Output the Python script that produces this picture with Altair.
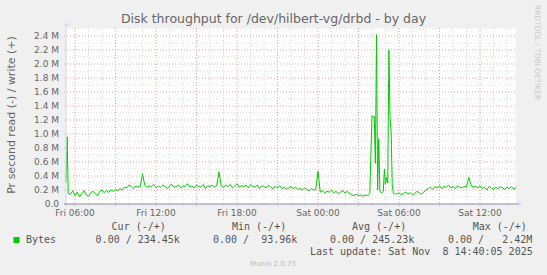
import altair as alt
import pandas as pd

# ---------------- data (values in M bytes/s, write side; read side is 0) ----------------
# Fri 05:20 .. 05:30, 5-minute samples
start_values = [0.31, 0.96, 0.15]
# Fri 05:40 .. Sat 03:40, 10-minute samples
day_values = [
    0.14, 0.19, 0.12, 0.17, 0.10, 0.15, 0.19, 0.13, 0.11, 0.16, 0.18,
    0.15, 0.12, 0.18, 0.20, 0.16, 0.19, 0.17, 0.20, 0.18, 0.21, 0.19, 0.22,
    0.20, 0.24, 0.23, 0.27, 0.25, 0.22, 0.26, 0.24, 0.25,
    0.43,
    0.27, 0.24, 0.26, 0.25, 0.28, 0.23, 0.26, 0.24, 0.27, 0.25, 0.22, 0.26, 0.28,
    0.24, 0.25, 0.27, 0.23, 0.26, 0.25, 0.29, 0.24, 0.26, 0.23, 0.27, 0.25, 0.24,
    0.28, 0.22, 0.26, 0.25, 0.27, 0.24, 0.26,
    0.46,
    0.26, 0.24, 0.27, 0.25, 0.28, 0.23, 0.26, 0.29, 0.24, 0.26, 0.25, 0.27, 0.23,
    0.28, 0.25, 0.24, 0.27, 0.22, 0.26, 0.25, 0.23, 0.27, 0.24, 0.22, 0.25, 0.23,
    0.26, 0.22, 0.24, 0.21, 0.23, 0.25, 0.22, 0.24, 0.21,
    0.22, 0.20, 0.23, 0.21, 0.19, 0.22, 0.20, 0.21,
    0.47,
    0.17, 0.19, 0.16, 0.18, 0.17, 0.20, 0.16, 0.18, 0.15, 0.17, 0.19, 0.16, 0.18, 0.15,
    0.13, 0.12, 0.14, 0.12, 0.13, 0.11, 0.13, 0.12,
]
# Sat 03:45 .. 05:45, 5-minute samples (burst)
burst_values = [
    0.13, 0.15, 0.70, 1.26, 1.24, 1.25, 0.58, 2.42, 0.20, 0.93, 0.18, 0.17, 0.16,
    0.18, 0.50, 0.28, 0.38, 0.30, 2.20, 1.24, 1.04, 0.27, 0.15, 0.14, 0.15,
]
# Sat 05:50 .. 14:40, 10-minute samples
tail_values = [
    0.14, 0.16, 0.13, 0.15, 0.17, 0.14, 0.16, 0.13, 0.15, 0.18, 0.16, 0.14, 0.17, 0.20,
    0.22, 0.24, 0.21, 0.25, 0.23, 0.26, 0.22, 0.25, 0.24, 0.27, 0.23, 0.25, 0.22, 0.26,
    0.24, 0.23, 0.25, 0.24,
    0.38,
    0.27, 0.24, 0.25, 0.23, 0.26, 0.22, 0.24, 0.20, 0.25, 0.23, 0.21, 0.24, 0.22, 0.25,
    0.23, 0.21, 0.24, 0.22, 0.25, 0.21, 0.234,
]

# segment start (hours since Fri 00:00) and sample step (hours)
segments = [
    (5 + 20 / 60, 5 / 60, start_values),
    (5 + 40 / 60, 10 / 60, day_values),
    (27 + 45 / 60, 5 / 60, burst_values),
    (29 + 50 / 60, 10 / 60, tail_values),
]
rows = []
for t0, step, vals in segments:
    for i, v in enumerate(vals):
        rows.append({"hour": t0 + i * step, "value": v})
series = pd.DataFrame(rows)

x_tick_hours = [6, 12, 18, 24, 30, 36]
x_tick_labels = ["Fri 06:00", "Fri 12:00", "Fri 18:00", "Sat 00:00", "Sat 06:00", "Sat 12:00"]
y_tick_values = [0.0, 0.2, 0.4, 0.6, 0.8, 1.0, 1.2, 1.4, 1.6, 1.8, 2.0, 2.2, 2.4]
y_tick_labels = ["0.0", "0.2 M", "0.4 M", "0.6 M", "0.8 M", "1.0 M", "1.2 M", "1.4 M",
                 "1.6 M", "1.8 M", "2.0 M", "2.2 M", "2.4 M"]
y_minor = [0.1, 0.3, 0.5, 0.7, 0.9, 1.1, 1.3, 1.5, 1.7, 1.9, 2.1, 2.3, 2.5]
x_major = [6, 9, 12, 15, 18, 21, 24, 27, 30, 33, 36]
x_minor = [h for h in range(6, 39) if h % 3 != 0]

legend_headers = ["Cur (-/+)", "Min (-/+)", "Avg (-/+)", "Max (-/+)"]
legend_values = ["0.00 / 234.45k", "0.00 /\u00a0\u00a093.96k", "0.00 / 245.23k", "0.00 /\u00a0\u00a0\u00a02.42M"]

# ---------------- layout ----------------
W, H = 450, 176
X_DOMAIN = [5 + 20 / 60, 38 + 40 / 60]
Y_DOMAIN = [0, 2.514]
xs = alt.Scale(domain=X_DOMAIN, nice=False, zero=False)
ys = alt.Scale(domain=Y_DOMAIN, nice=False, zero=False)

FONT = "DejaVu Sans"
MONO = "DejaVu Sans Mono"
FCOL = "#666666"
GRID = "#DADADA"
MGRID = "#F2A0A0"
GREEN = "#00CC00"

one = pd.DataFrame({"a": [0]})

hminor = alt.Chart(pd.DataFrame({"v": y_minor})).mark_rule(
    color=GRID, strokeWidth=1, strokeDash=[1, 2]
).encode(y=alt.Y("v:Q", scale=ys, axis=None), x=alt.value(0), x2=alt.value(W))

hmajor = alt.Chart(pd.DataFrame({"v": y_tick_values[1:]})).mark_rule(
    color=MGRID, strokeWidth=1, strokeDash=[1, 2]
).encode(y=alt.Y("v:Q", scale=ys, axis=None), x=alt.value(-2), x2=alt.value(W))

vminor = alt.Chart(pd.DataFrame({"h": x_minor})).mark_rule(
    color=GRID, strokeWidth=1, strokeDash=[1, 2]
).encode(x=alt.X("h:Q", scale=xs, axis=None), y=alt.value(0), y2=alt.value(H + 2))

vmajor = alt.Chart(pd.DataFrame({"h": x_major})).mark_rule(
    color=MGRID, strokeWidth=1, strokeDash=[1, 2]
).encode(x=alt.X("h:Q", scale=xs, axis=None), y=alt.value(0), y2=alt.value(H + 2))

line = alt.Chart(series).mark_line(color=GREEN, strokeWidth=1, interpolate="linear").encode(
    x=alt.X("hour:Q", scale=xs, axis=None),
    y=alt.Y("value:Q", scale=ys, axis=None),
)

left_axis = alt.Chart(one).mark_rule(color="#CFD6F8", strokeWidth=1).encode(
    x=alt.value(0), y=alt.value(-3), y2=alt.value(H + 2)
)
bottom_axis = alt.Chart(one).mark_rule(color="#8A8AA8", strokeWidth=1).encode(
    x=alt.value(-2), x2=alt.value(W + 2), y=alt.value(H)
)
up_arrow = alt.Chart(one).mark_point(shape="triangle-up", filled=True, size=22, color="#CFD6F8", opacity=1).encode(
    x=alt.value(0.5), y=alt.value(-4)
)
right_arrow = alt.Chart(one).mark_point(shape="triangle-right", filled=True, size=22, color="#CFD6F8", opacity=1).encode(
    x=alt.value(W + 4), y=alt.value(H)
)

ylabels = alt.Chart(pd.DataFrame({"v": y_tick_values, "t": y_tick_labels})).mark_text(
    align="right", baseline="middle", font=FONT, fontSize=9, color=FCOL
).encode(y=alt.Y("v:Q", scale=ys, axis=None), x=alt.value(-7), text="t:N")

xlabels = alt.Chart(pd.DataFrame({"h": x_tick_hours, "t": x_tick_labels})).mark_text(
    align="center", baseline="middle", font=FONT, fontSize=9, color=FCOL
).encode(x=alt.X("h:Q", scale=xs, axis=None), y=alt.value(H + 9), text="t:N")


def label(text, x, y, size, align="left", font=FONT, color=FCOL, angle=0):
    kw = dict(align=align, baseline="middle", font=font, fontSize=size, color=color, text=text)
    if angle:
        kw["angle"] = angle
    return alt.Chart(one).mark_text(**kw).encode(x=alt.value(x), y=alt.value(y))


texts = [
    label("Disk throughput for /dev/hilbert-vg/drbd - by day", 207.5, -9, 12.5, align="center"),
    label("Pr second read (-) / write (+)", -54.3, 87, 11, align="center", angle=270),
    label("RRDTOOL / TOBI OETIKER", 470.7, -23, 7.4, align="left", color="#C8C8C8", angle=90),
    label("Bytes", -40, 211.7, 10, font=MONO, color="#555555"),
    label("Last update: Sat Nov\u00a0\u00a08 14:40:05 2025", 466.7, 223.7, 10, align="right", font=MONO, color="#555555"),
    label("Munin 2.0.73", 207, 235.7, 7, align="center", color="#BBBBBB"),
]
header_x = [45.6, 166, 286, 406.7]
value_x = [29.6, 147, 264, 382]
for hx, ht in zip(header_x, legend_headers):
    texts.append(label(ht, hx, 199, 10, font=MONO, color="#555555"))
for vx, vt in zip(value_x, legend_values):
    texts.append(label(vt, vx, 211.7, 10, font=MONO, color="#555555"))

legend_box = alt.Chart(one).mark_point(shape="square", filled=True, size=36, color=GREEN, opacity=1).encode(
    x=alt.value(-49.5), y=alt.value(212)
)

chart = alt.layer(
    hminor, vminor, hmajor, vmajor, line, left_axis, bottom_axis, up_arrow, right_arrow,
    ylabels, xlabels, legend_box, *texts
).properties(
    width=W, height=H,
    background="#F0F0F0",
    padding={"left": 66, "top": 28, "right": 31, "bottom": 71},
    autosize=alt.AutoSizeParams(type="none"),
).configure_view(stroke=None, fill="#FFFFFF")

chart.save("out.html", embed_options={"renderer": "svg", "actions": False})
